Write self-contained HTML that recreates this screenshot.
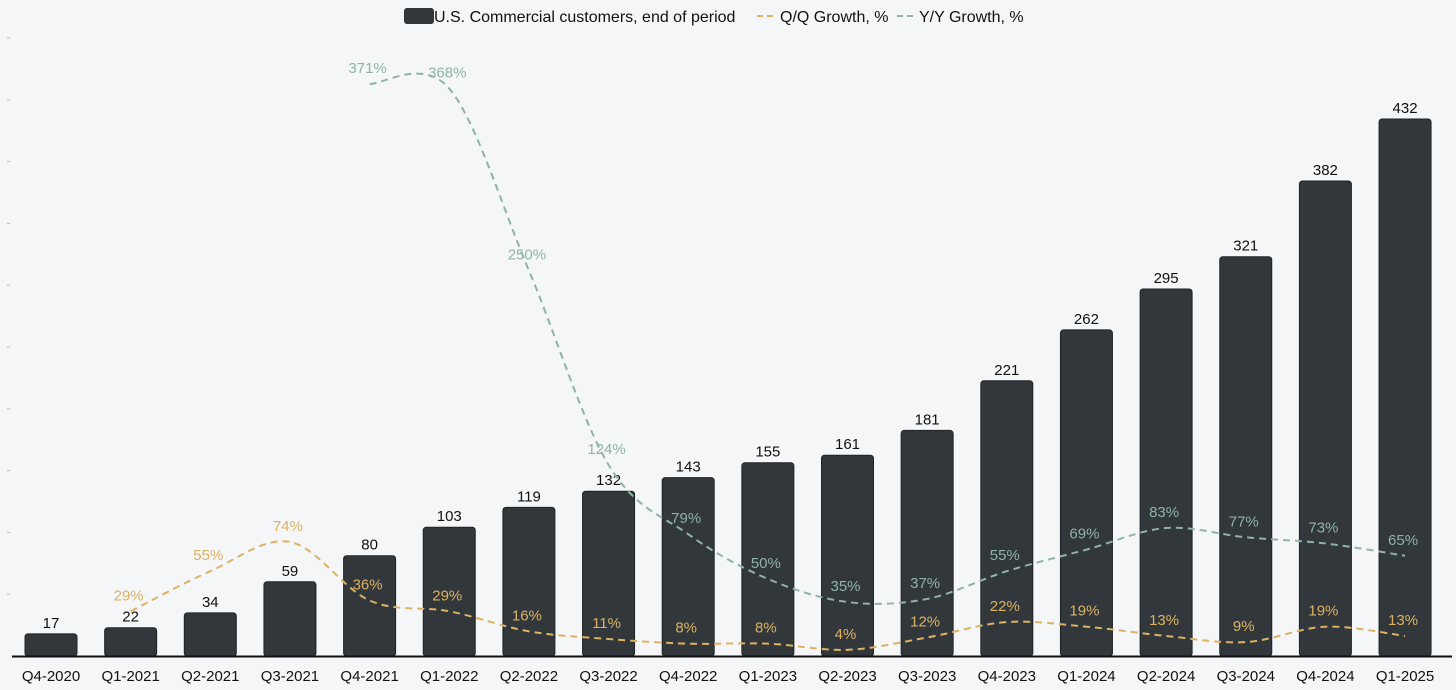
<!DOCTYPE html>
<html><head><meta charset="utf-8"><style>
html,body{margin:0;padding:0;background:#f4f6f8;}
svg{display:block;font-family:"Liberation Sans",sans-serif;}
</style></head><body>
<svg id="chart" width="1456" height="690" viewBox="0 0 1456 690">
<rect width="1456" height="690" fill="#f4f6f8"/>
<g>
 <g>
  <rect x="404" y="8" width="30" height="16" rx="3" fill="#31373a"/>
  <text x="434" y="22" font-size="16" fill="#111">U.S. Commercial customers, end of period</text>
 </g>
 <g>
  <line x1="757" y1="16" x2="777" y2="16" stroke="#ddb263" stroke-width="2" stroke-dasharray="6,4"/>
  <text x="780" y="22" font-size="16" fill="#111">Q/Q Growth, %</text>
 </g>
 <g>
  <line x1="897" y1="16" x2="917" y2="16" stroke="#8fb3a8" stroke-width="2" stroke-dasharray="6,4"/>
  <text x="919" y="22" font-size="16" fill="#111">Y/Y Growth, %</text>
 </g>
</g>
<g id="ticks"></g>
<g id="bars"></g>
<g id="lines"></g>
<line x1="12" y1="656.5" x2="1452" y2="656.5" stroke="#111" stroke-width="2"/>
<g id="xlabels"></g>
</svg>
<script>
const categories=["Q4-2020","Q1-2021","Q2-2021","Q3-2021","Q4-2021","Q1-2022","Q2-2022","Q3-2022","Q4-2022","Q1-2023","Q2-2023","Q3-2023","Q4-2023","Q1-2024","Q2-2024","Q3-2024","Q4-2024","Q1-2025"];
const customers=[17,22,34,59,80,103,119,132,143,155,161,181,221,262,295,321,382,432];
const qqGrowth=[null,29,55,74,36,29,16,11,8,8,4,12,22,19,13,9,19,13];
const yyGrowth=[null,null,null,null,371,368,250,124,79,50,35,37,55,69,83,77,73,65];
const NS="http://www.w3.org/2000/svg";
const base=656, x0=51, step=79.65, barW=52;
const xS=i=>x0+i*step;
const yBar=v=>base-1-v*1.2407;
const yPct=v=>base-v*1.542;
function mk(t,a,p){const e=document.createElementNS(NS,t);for(const k in a)e.setAttribute(k,a[k]);p.appendChild(e);return e;}
const ticks=document.getElementById('ticks');
for(let k=1;k<=10;k++){
 const t=mk('line',{x1:7,x2:10,y1:base-k*61.8,y2:base-k*61.8,stroke:'#bbb','stroke-width':1},ticks);
 
 
}
const bars=document.getElementById('bars'), xl=document.getElementById('xlabels');
categories.forEach((c,i)=>{
 const v=customers[i], y=yBar(v);
 const r=mk('rect',{x:xS(i)-barW/2,y:y,width:barW,height:base-y,rx:3,fill:'#31373a',stroke:'#1f2426','stroke-width':1},bars);
 
 
 const t=mk('text',{x:xS(i),y:y-6,'text-anchor':'middle','font-size':15,fill:'#111'},bars);
 t.textContent=v;
 
 
 const l=mk('text',{x:xS(i),y:681,'text-anchor':'middle','font-size':15,fill:'#111'},xl);
 l.textContent=c;
 
 
});
function pathFor(vals){
 const pts=[];vals.forEach((v,i)=>{if(v!==null)pts.push([xS(i),yPct(v)]);});
 let d='M'+pts[0][0]+','+pts[0][1];
 for(let i=0;i<pts.length-1;i++){
  const p0=pts[i-1]||pts[i],p1=pts[i],p2=pts[i+1],p3=pts[i+2]||p2;
  const c1=[p1[0]+(p2[0]-p0[0])/6,p1[1]+(p2[1]-p0[1])/6];
  const c2=[p2[0]-(p3[0]-p1[0])/6,p2[1]-(p3[1]-p1[1])/6];
  d+=` C${c1[0]},${c1[1]} ${c2[0]},${c2[1]} ${p2[0]},${p2[1]}`;
 }
 return d;
}
const lines=document.getElementById('lines');
[[yyGrowth,'#8fb3a8','yy'],[qqGrowth,'#ddb263','qq']].forEach(([vals,col,nm])=>{
 const p=mk('path',{d:pathFor(vals),fill:'none',stroke:col,'stroke-width':2,'stroke-dasharray':'7,5'},lines);
 
 
 vals.forEach((v,i)=>{
  if(v===null)return;
  const t=mk('text',{x:xS(i)-2,y:yPct(v)-11,'text-anchor':'middle','font-size':15,fill:col},lines);
  t.textContent=v+'%';
  
  
 });
});
</script>
</body></html>
